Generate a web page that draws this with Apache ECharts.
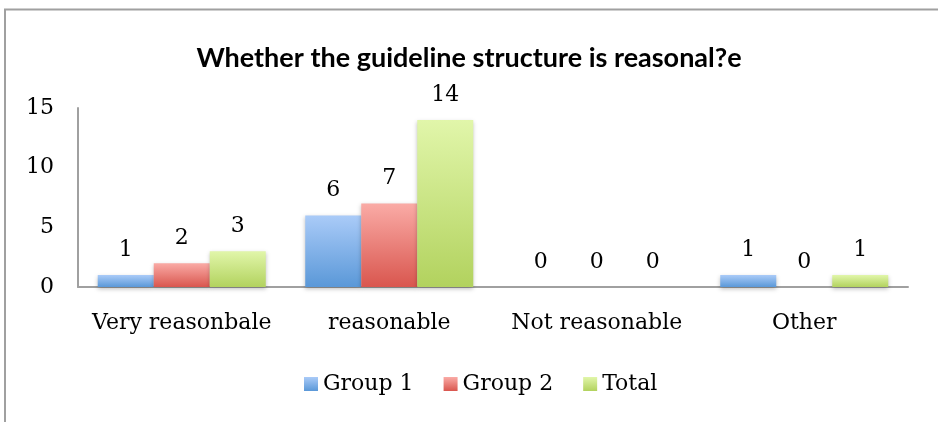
<!DOCTYPE html>
<html>
<head>
<meta charset="utf-8">
<script src="https://cdn.jsdelivr.net/npm/echarts@6/dist/echarts.min.js"></script>
<style>
html, body { margin: 0; padding: 0; background: #fff; }
#main { width: 938px; height: 422px; }
</style>
</head>
<body>
<div id="main"></div>
<script>
var categories = ['Very reasonbale', 'reasonable', 'Not reasonable', 'Other'];
var group1 = [1, 6, 0, 1];
var group2 = [2, 7, 0, 0];
var total = [3, 14, 0, 1];
var yTicks = [0, 5, 10, 15];

var serif = 'DejaVu Serif';

function grad(top, bottom) {
	return new echarts.graphic.LinearGradient(0, 0, 0, 1, [
		{ offset: 0, color: top },
		{ offset: 1, color: bottom }
	]);
}

function barSeries(name, data, top, bottom) {
	return {
		name: name,
		type: 'bar',
		data: data,
		barWidth: 56,
		barGap: '0%',
		itemStyle: {
			color: grad(top, bottom),
			shadowColor: 'rgba(0,0,0,0.25)',
			shadowBlur: 4,
			shadowOffsetY: 2
		},
		label: {
			show: true,
			position: 'top',
			distance: 14,
			fontFamily: serif,
			fontSize: 22,
			color: '#000'
		}
	};
}

var chart = echarts.init(document.getElementById('main'));
chart.setOption({
	animation: false,
	backgroundColor: '#fff',
	graphic: [{
		type: 'polyline',
		shape: { points: [[5, 422], [5, 9.5], [938, 9.5]] },
		style: { stroke: '#a0a0a0', lineWidth: 2, fill: null }
	}],
	title: {
		text: 'Whether the guideline structure is reasonal?e',
		left: 'center',
		top: 40,
		textStyle: {
			fontFamily: 'Lato',
			fontWeight: 'bold',
			fontSize: 27,
			color: '#000'
		}
	},
	legend: {
		data: ['Group 1', 'Group 2', 'Total'],
		bottom: 22,
		left: 299,
		itemWidth: 14,
		itemHeight: 14,
		itemGap: 30,
		icon: 'rect',
		textStyle: { fontFamily: serif, fontSize: 22, color: '#000' }
	},
	grid: { left: 78, right: 30, top: 108, bottom: 135 },
	xAxis: {
		type: 'category',
		data: categories,
		axisLine: { lineStyle: { color: '#a0a0a0', width: 2 } },
		axisTick: { show: false },
		axisLabel: { interval: 0, fontFamily: serif, fontSize: 22, color: '#000', margin: 25 }
	},
	yAxis: {
		type: 'value',
		min: 0,
		max: yTicks[yTicks.length - 1],
		interval: 5,
		axisLine: { show: true, lineStyle: { color: '#a0a0a0', width: 2 } },
		axisTick: { show: false },
		splitLine: { show: false },
		axisLabel: { fontFamily: serif, fontSize: 22, color: '#000', margin: 24 }
	},
	series: [
		barSeries('Group 1', group1, '#aacbf8', '#5a98d8'),
		barSeries('Group 2', group2, '#faaba6', '#d9564e'),
		barSeries('Total', total, '#e1f6aa', '#b2d25e')
	]
});
</script>
</body>
</html>
